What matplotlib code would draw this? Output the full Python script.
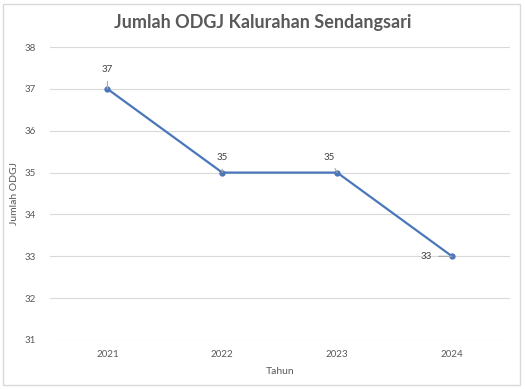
import matplotlib.pyplot as plt
from matplotlib.patches import Rectangle

years = ['2021', '2022', '2023', '2024']
jumlah = [37, 35, 35, 33]
yticks = [31, 32, 33, 34, 35, 36, 37, 38]
# label offsets in pixels (dx, dy)
label_offsets = [(0, 19), (0, 15), (-8, 15), (-26, 0)]

plt.rcParams['font.family'] = ['Lato', 'DejaVu Sans']
grey = '#595959'

fig = plt.figure(figsize=(5.25, 3.89), dpi=100)
ax = fig.add_axes([0.0952, 0.126, 0.8753, 0.753])

x = list(range(len(years)))
ax.plot(x, jumlah, color='#4A76BA', linewidth=1.6, marker='o', markersize=3.5, zorder=3)

for xi, yi, (dx, dy) in zip(x, jumlah, label_offsets):
    ax.annotate(str(yi), xy=(xi, yi), xytext=(dx, dy), textcoords='offset pixels',
                ha='center', va='center', fontsize=7, color='#404040',
                arrowprops=dict(arrowstyle='-', color='#A6A6A6', lw=0.8, shrinkA=3, shrinkB=0))

ax.set_xlim(-0.5, 3.5)
ax.set_ylim(31, 38)
ax.set_xticks(x)
ax.set_xticklabels(years)
ax.set_yticks(yticks)
ax.grid(axis='y', color='#D9D9D9', linewidth=0.8)
ax.set_axisbelow(True)
for s in ax.spines.values():
    s.set_visible(False)
ax.tick_params(length=0, labelsize=7, colors=grey, pad=10)
ax.tick_params(axis='x', pad=7)

ax.set_xlabel('Tahun', fontsize=7.5, color=grey, labelpad=6)
ax.set_ylabel('Jumlah ODGJ', fontsize=7.5, color=grey, labelpad=4)

fig.text(0.5, 0.943, 'Jumlah ODGJ Kalurahan Sendangsari', ha='center', va='center',
         fontsize=13, fontweight='bold', color=grey)

fig.patches.append(Rectangle((3 / 525, 4 / 389), 517 / 525, 381 / 389, transform=fig.transFigure,
                             fill=False, edgecolor='#D9D9D9', linewidth=1))

fig.savefig('out.png', dpi=100)
